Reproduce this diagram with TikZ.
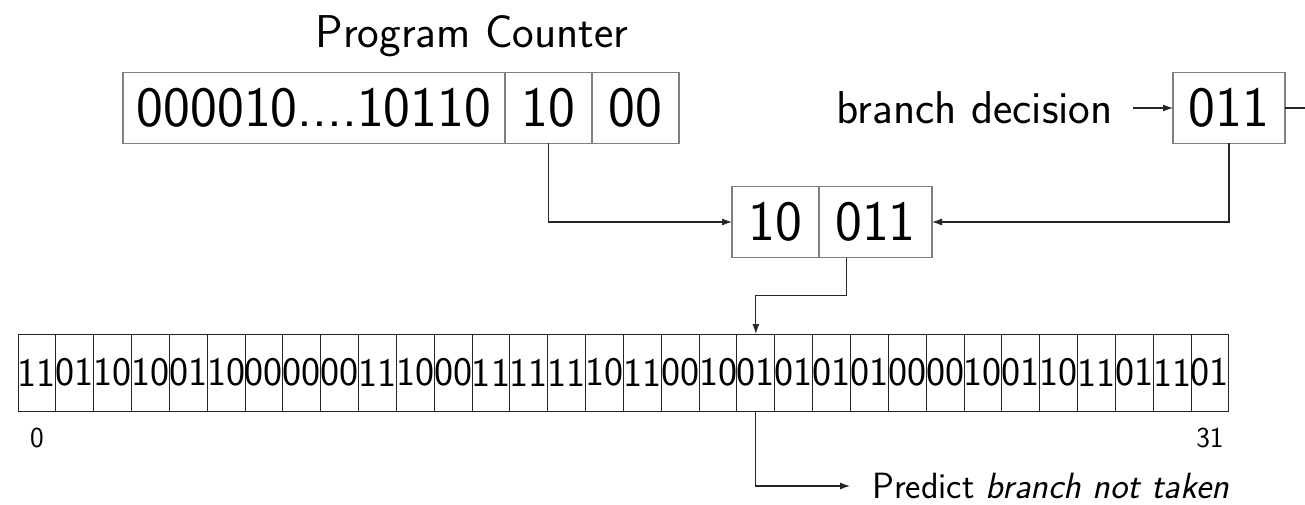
\documentclass[tikz,border=0pt]{standalone}
\usepackage{xcolor}
\usepackage{tikz}
\usetikzlibrary{arrows.meta,positioning}
\renewcommand{\familydefault}{\sfdefault}
\definecolor{boxgray}{RGB}{128,128,118}

\begin{document}
\begin{tikzpicture}[
    x=1pt, y=-1pt,
    regbox/.style={rectangle, draw=boxgray, line width=1.3pt, inner sep=0pt, outer sep=0pt, minimum height=71pt, font=\fontsize{57}{64}\selectfont},
    bitcell/.style={rectangle, draw=black!85, line width=1pt, inner sep=0pt, outer sep=0pt, minimum width=37.84pt, minimum height=77pt, font=\fontsize{40.5}{46}\selectfont},
    txt/.style={inner sep=0pt, font=\fontsize{46}{54}\selectfont},
    idxtxt/.style={inner sep=0pt, font=\fontsize{29}{34}\selectfont},
    arrow/.style={-{Latex[length=10pt,width=7pt]}, line width=1.1pt, draw=black!85},
    link/.style={line width=1.1pt, draw=black!85}
]
\useasboundingbox (0,0) rectangle (1305,505);

% Program counter
\node[txt, anchor=base] (pctitle) at (472,48) {Program Counter};
\node[regbox, minimum width=382pt] (pchigh) at (314,108) {\makebox[0pt]{000010....10110}};
\node[regbox, minimum width=87pt, right=0pt of pchigh] (pcidx) {\makebox[0pt]{10}};
\node[regbox, minimum width=87pt, right=0pt of pcidx] (pclow) {\makebox[0pt]{00}};

% Global history register
\node[regbox, minimum width=112pt] (bhr) at (1229,108) {\makebox[0pt]{011}};
\node[txt, left=60pt of bhr] (bdec) {branch decision};
\coordinate (bhrout) at (1305,108);

% Concatenated index
\node[regbox, minimum width=87pt] (hidx) at (775.5,222) {\makebox[0pt]{10}};
\node[regbox, minimum width=113pt, right=0pt of hidx] (hhist) {\makebox[0pt]{011}};

% Pattern history table, two bits per entry
\foreach \bits [count=\n from 0] in {11,01,10,10,01,10,00,00,00,11,10,00,11,11,11,10,11,00,10,01,01,01,01,00,00,10,01,10,11,01,11,01}
    \node[bitcell] (cell\n) at ({18+37.84*(\n+0.5)},372.5) {\makebox[0pt]{\bits}};
\node[idxtxt, below=17pt of cell0] (first) {0};
\node[idxtxt, below=17pt of cell31] (last) {31};
\node[txt, anchor=west, font=\fontsize{36.5}{42}\selectfont] (predict) at (872,486) {Predict \textit{branch not taken}};

% Edges
\draw[arrow] ([xshift=20pt]bdec.east) -- (bhr.west);
\draw[link] (bhr.east) -- (bhrout);
\draw[arrow] (pcidx.south) |- (hidx.west);
\draw[arrow] (bhr.south) |- (hhist.east);
\draw[arrow] ([xshift=-29pt]hhist.south) -- ++(0,38) -| (cell19.north);
\draw[arrow] (cell19.south) |- ([xshift=-22pt]predict.west);

\end{tikzpicture}
\end{document}
